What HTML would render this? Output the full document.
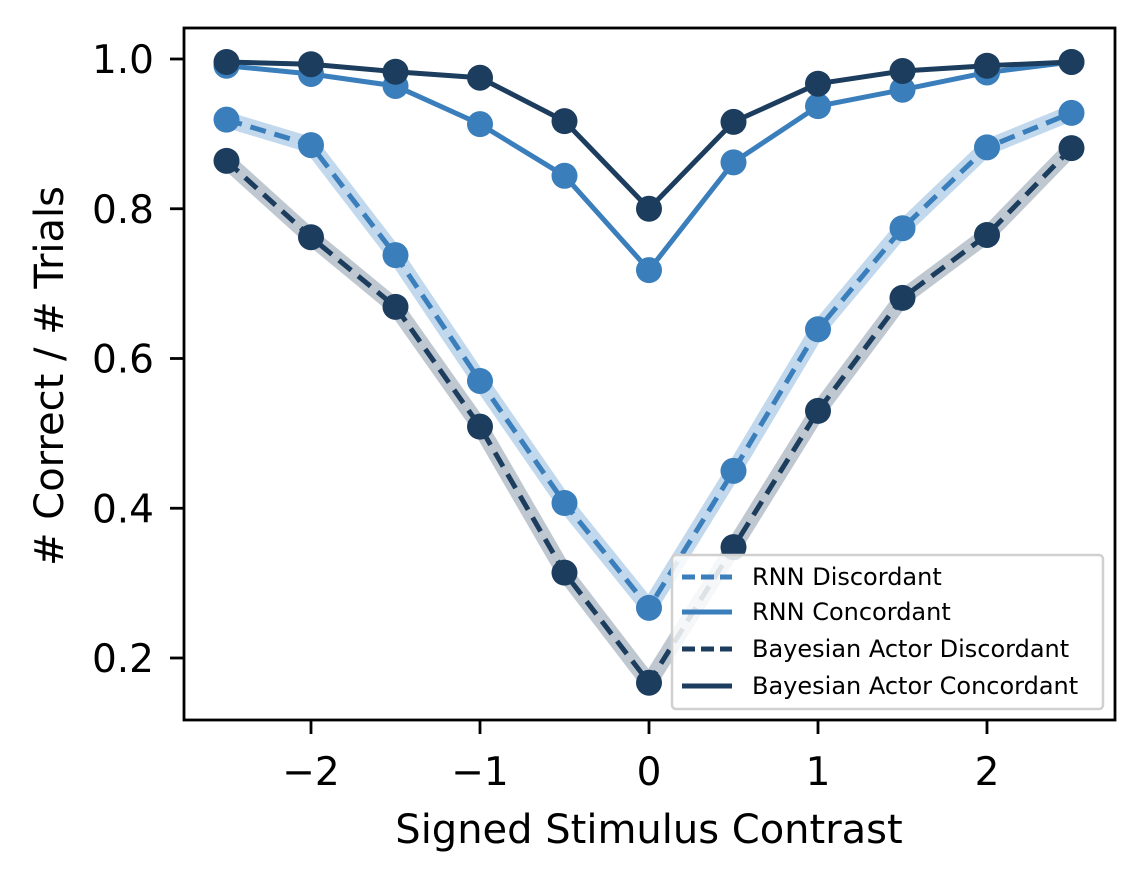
<!DOCTYPE html>
<html><head><meta charset="utf-8"><style>
html,body{margin:0;padding:0;background:#fff;}
svg{display:block;font-family:"DejaVu Sans","Liberation Sans",sans-serif;}
</style></head><body>
<svg id="chart" width="1144" height="882" viewBox="0 0 1144 882">
<g id="bands"></g>
<g id="series"></g>
<rect x="184" y="28" width="931" height="692" fill="none" stroke="#000" stroke-width="2.8"/>
<g id="xticks"></g>
<g id="yticks"></g>
<text x="649" y="843" font-size="40" text-anchor="middle">Signed Stimulus Contrast</text>
<text transform="translate(63,376) rotate(-90)" font-size="40" text-anchor="middle"># Correct / # Trials</text>
<g>
<rect x="672" y="555" width="431" height="154" rx="4" fill="#fff" fill-opacity="0.85" stroke="#d0d0d0" stroke-width="2.5"/>
<g><line x1="682" y1="577" x2="732" y2="577" stroke="#3a7ebb" stroke-width="5" stroke-dasharray="13,6"/><text x="752" y="585" font-size="24">RNN Discordant</text></g>
<g><line x1="682" y1="612" x2="732" y2="612" stroke="#3a7ebb" stroke-width="5"/><text x="752" y="620" font-size="24">RNN Concordant</text></g>
<g><line x1="682" y1="649" x2="732" y2="649" stroke="#1c3d5e" stroke-width="5" stroke-dasharray="13,6"/><text x="752" y="657" font-size="24">Bayesian Actor Discordant</text></g>
<g><line x1="682" y1="686" x2="732" y2="686" stroke="#1c3d5e" stroke-width="5"/><text x="752" y="694" font-size="24">Bayesian Actor Concordant</text></g>
</g>
</svg>
<script>
const xs = [-2.5,-2,-1.5,-1,-0.5,0,0.5,1,1.5,2,2.5];
const rnnDisc = [0.919,0.885,0.738,0.570,0.407,0.267,0.450,0.639,0.774,0.882,0.928];
const rnnConc = [0.991,0.980,0.964,0.913,0.844,0.718,0.862,0.937,0.959,0.982,0.996];
const bayDisc = [0.864,0.762,0.669,0.509,0.314,0.167,0.348,0.530,0.681,0.765,0.881];
const bayConc = [0.996,0.993,0.983,0.975,0.917,0.800,0.916,0.967,0.984,0.991,0.996];
const xTicks = [-2,-1,0,1,2];
const xTickLabels = ["\u22122","\u22121","0","1","2"];
const yTicks = [0.2,0.4,0.6,0.8,1.0];
const yTickLabels = ["0.2","0.4","0.6","0.8","1.0"];

const NS='http://www.w3.org/2000/svg';
function X(v){return 649+v*169;}
function Y(v){return 59+(1-v)*748.75;}
function mk(tag,attrs,parent){const e=document.createElementNS(NS,tag);for(const k in attrs)e.setAttribute(k,attrs[k]);parent.appendChild(e);return e;}
const bands=document.getElementById('bands'), series=document.getElementById('series');
function pts(arr){return arr.map((v,i)=>X(xs[i])+','+Y(v)).join(' ');}
let b1=mk('polyline',{points:pts(rnnDisc),fill:'none',stroke:'#c2d8ec','stroke-width':16,'stroke-linejoin':'round'},bands);


let b2=mk('polyline',{points:pts(bayDisc),fill:'none',stroke:'#bfc8d1','stroke-width':16,'stroke-linejoin':'round'},bands);


function draw(arr,color,dash,name){
  const g=mk('g',{},series);
  
  
  const a={points:pts(arr),fill:'none',stroke:color,'stroke-width':5,'stroke-linejoin':'round'};
  if(dash)a['stroke-dasharray']='16,9';
  mk('polyline',a,g);
  arr.forEach((v,i)=>{
    const c=mk('circle',{cx:X(xs[i]),cy:Y(v),r:13,fill:color},g);
    
    
  });
}
draw(rnnDisc,'#3a7ebb',true,'rnn-discordant-series');
draw(bayDisc,'#1c3d5e',true,'bayes-discordant-series');
draw(rnnConc,'#3a7ebb',false,'rnn-concordant-series');
draw(bayConc,'#1c3d5e',false,'bayes-concordant-series');
const xg=document.getElementById('xticks'), yg=document.getElementById('yticks');
xTicks.forEach((v,i)=>{
  mk('line',{x1:X(v),x2:X(v),y1:720,y2:734,stroke:'#000','stroke-width':2.8},xg);
  const t=mk('text',{x:X(v),y:785,'font-size':39,'text-anchor':'middle'},xg);
  t.textContent=xTickLabels[i];
  
  
});
yTicks.forEach((v,i)=>{
  mk('line',{x1:170,x2:184,y1:Y(v),y2:Y(v),stroke:'#000','stroke-width':2.8},yg);
  const t=mk('text',{x:154,y:Y(v)+14,'font-size':39,'text-anchor':'end'},yg);
  t.textContent=yTickLabels[i];
  
  
});
</script>
</body></html>
